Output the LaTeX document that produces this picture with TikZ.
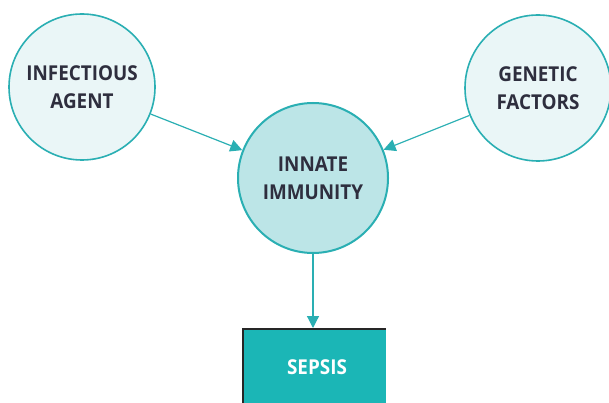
\documentclass[tikz,border=0pt]{standalone}
\usepackage{fontspec}
\setmainfont{Open Sans}[FakeStretch=0.92]
\usetikzlibrary{arrows.meta}
\definecolor{teal1}{HTML}{2AAFB3}
\definecolor{lightfill}{HTML}{EAF6F7}
\definecolor{midfill}{HTML}{BCE5E7}
\definecolor{sepsisfill}{HTML}{1BB6B6}
\definecolor{txt}{HTML}{2E2E3E}
\begin{document}
\begin{tikzpicture}[x=1pt,y=-1pt,
  lbl/.style={font=\bfseries\fontsize{20.5}{28}\selectfont},
  outercirc/.style={circle,draw=teal1,line width=1.6pt,fill=lightfill,minimum size=146pt,inner sep=0pt,align=center,lbl,text=txt},
  innercirc/.style={circle,draw=teal1,line width=2pt,fill=midfill,minimum size=150pt,inner sep=0pt,align=center,lbl,text=txt},
  conn/.style={draw=teal1,line width=1.2pt,-{Triangle[length=12pt,width=12pt]}}]
\useasboundingbox (0,0) rectangle (609,403);
\fill[white] (0,0) rectangle (609,403);
\node[outercirc] (inf) at (82,87) {INFECTIOUS\\AGENT};
\node[outercirc] (gen) at (538,88) {GENETIC\\FACTORS};
\node[innercirc] (inn) at (313,178) {INNATE\\IMMUNITY};
\fill[sepsisfill] (242,328) rectangle (386,410);
\draw[black!85,line width=2pt] (243,410) -- (243,329) -- (386,329);
\node[lbl,text=white] (sep) at (317,367) {SEPSIS};
\coordinate (septop) at (313,328);
\draw[conn] (inf) -- (inn);
\draw[conn] (gen) -- (inn);
\draw[conn] (inn) -- (septop);
\end{tikzpicture}
\end{document}
